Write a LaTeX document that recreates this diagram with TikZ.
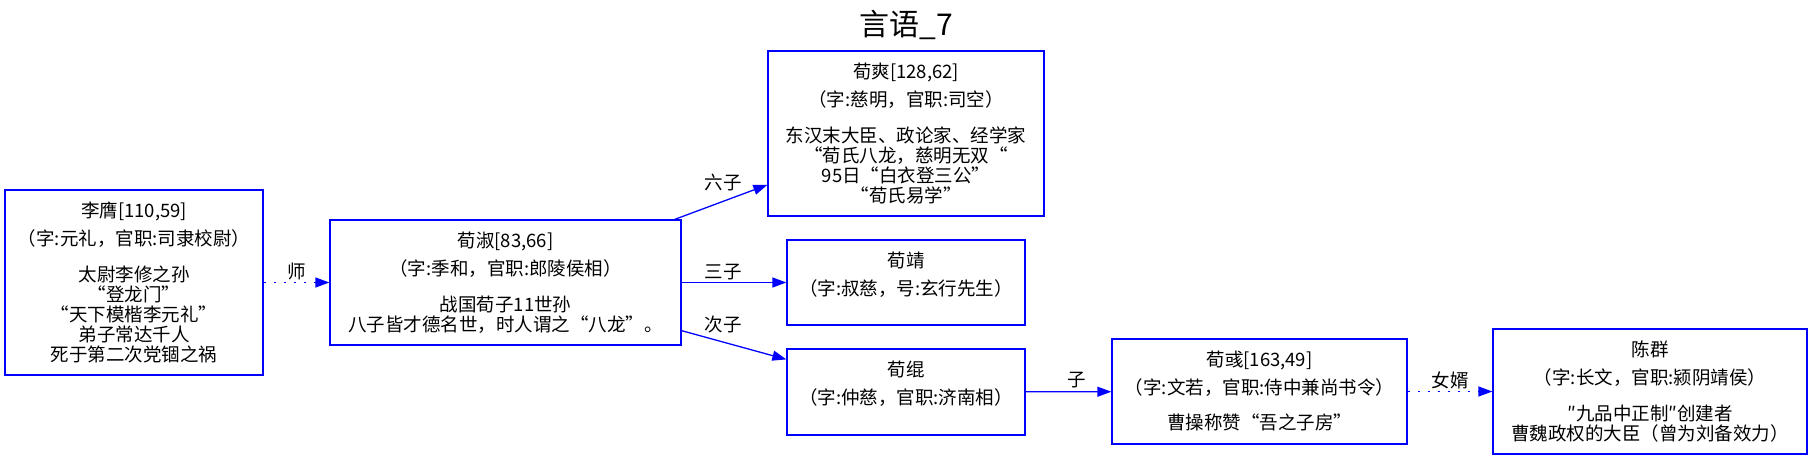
\documentclass[tikz,border=0pt]{standalone}
\usepackage{fontspec}
\setmainfont{Noto Sans CJK SC}
\usetikzlibrary{arrows.meta}
\definecolor{edgeblue}{RGB}{0,0,255}
\tikzset{
  box/.style={draw=edgeblue, line width=1.3pt, rectangle, inner sep=0pt},
  txt/.style={align=center, inner sep=0pt, anchor=north, font=\fontsize{18.5}{20}\selectfont},
  lab/.style={inner sep=0pt, font=\fontsize{18.5}{20}\selectfont},
  edge/.style={draw=edgeblue, line width=1.3pt, -{Triangle[length=14pt,width=10pt]}},
  dotedge/.style={edge, dash pattern=on 2pt off 8pt},
}
\begin{document}
\begin{tikzpicture}[x=1pt,y=-1pt]
\useasboundingbox (0,0) rectangle (1812,460);
\node[inner sep=0pt, font=\fontsize{30}{34}\selectfont] (title) at (906,25) {言语\_7};

\node[box, minimum width=258pt, minimum height=185pt] (liying) at (134,282.5) {};
\node[txt] (liyingT) at ([yshift=-12pt]liying.north) {李膺[110,59]\\[8pt]（字:元礼，官职:司隶校尉）\\[16pt]太尉李修之孙\\“登龙门”\\“天下模楷李元礼”\\弟子常达千人\\死于第二次党锢之祸};

\node[box, minimum width=351pt, minimum height=125pt] (xunshu) at (505.5,282.5) {};
\node[txt] (xunshuT) at ([yshift=-12pt]xunshu.north) {荀淑[83,66]\\[8pt]（字:季和，官职:郎陵侯相）\\[16pt]战国荀子11世孙\\八子皆才德名世，时人谓之“八龙”。};

\node[box, minimum width=276pt, minimum height=165pt] (xunshuang) at (906,133.5) {};
\node[txt] (xunshuangT) at ([yshift=-12pt]xunshuang.north) {荀爽[128,62]\\[8pt]（字:慈明，官职:司空）\\[16pt]东汉末大臣、政论家、经学家\\“荀氏八龙，慈明无双“\\95日“白衣登三公”\\“荀氏易学”};

\node[box, minimum width=238pt, minimum height=85pt] (xunjing) at (906,282.5) {};
\node[txt] (xunjingT) at ([yshift=-12pt]xunjing.north) {荀靖\\[8pt]（字:叔慈，号:玄行先生）};

\node[box, minimum width=238pt, minimum height=86pt] (xungun) at (906,392) {};
\node[txt] (xungunT) at ([yshift=-12pt]xungun.north) {荀绲\\[8pt]（字:仲慈，官职:济南相）};

\node[box, minimum width=295pt, minimum height=105pt] (xunyu) at (1259.5,391.5) {};
\node[txt] (xunyuT) at ([yshift=-12pt]xunyu.north) {荀彧[163,49]\\[8pt]（字:文若，官职:侍中兼尚书令）\\[15pt]曹操称赞“吾之子房”};

\node[box, minimum width=314pt, minimum height=125pt] (chenqun) at (1650,391.5) {};
\node[txt] (chenqunT) at ([yshift=-12pt]chenqun.north) {陈群\\[8pt]（字:长文，官职:颍阴靖侯）\\[16pt]″九品中正制″创建者\\曹魏政权的大臣（曾为刘备效力）};

\draw[dotedge] (liying) -- (xunshu);
\draw[edge] (xunshu) -- (xunshuang);
\draw[edge] (xunshu) -- (xunjing);
\draw[edge] (xunshu) -- (xungun);
\draw[edge] (xungun) -- (xunyu);
\draw[dotedge] (xunyu) -- (chenqun);

\node[lab] (l1) at (297,271) {师};
\node[lab] (l2) at (723,183) {六子};
\node[lab] (l3) at (723,272) {三子};
\node[lab] (l4) at (723,325) {次子};
\node[lab] (l5) at (1077,380) {子};
\node[lab] (l6) at (1450,380) {女婿};
\end{tikzpicture}
\end{document}
